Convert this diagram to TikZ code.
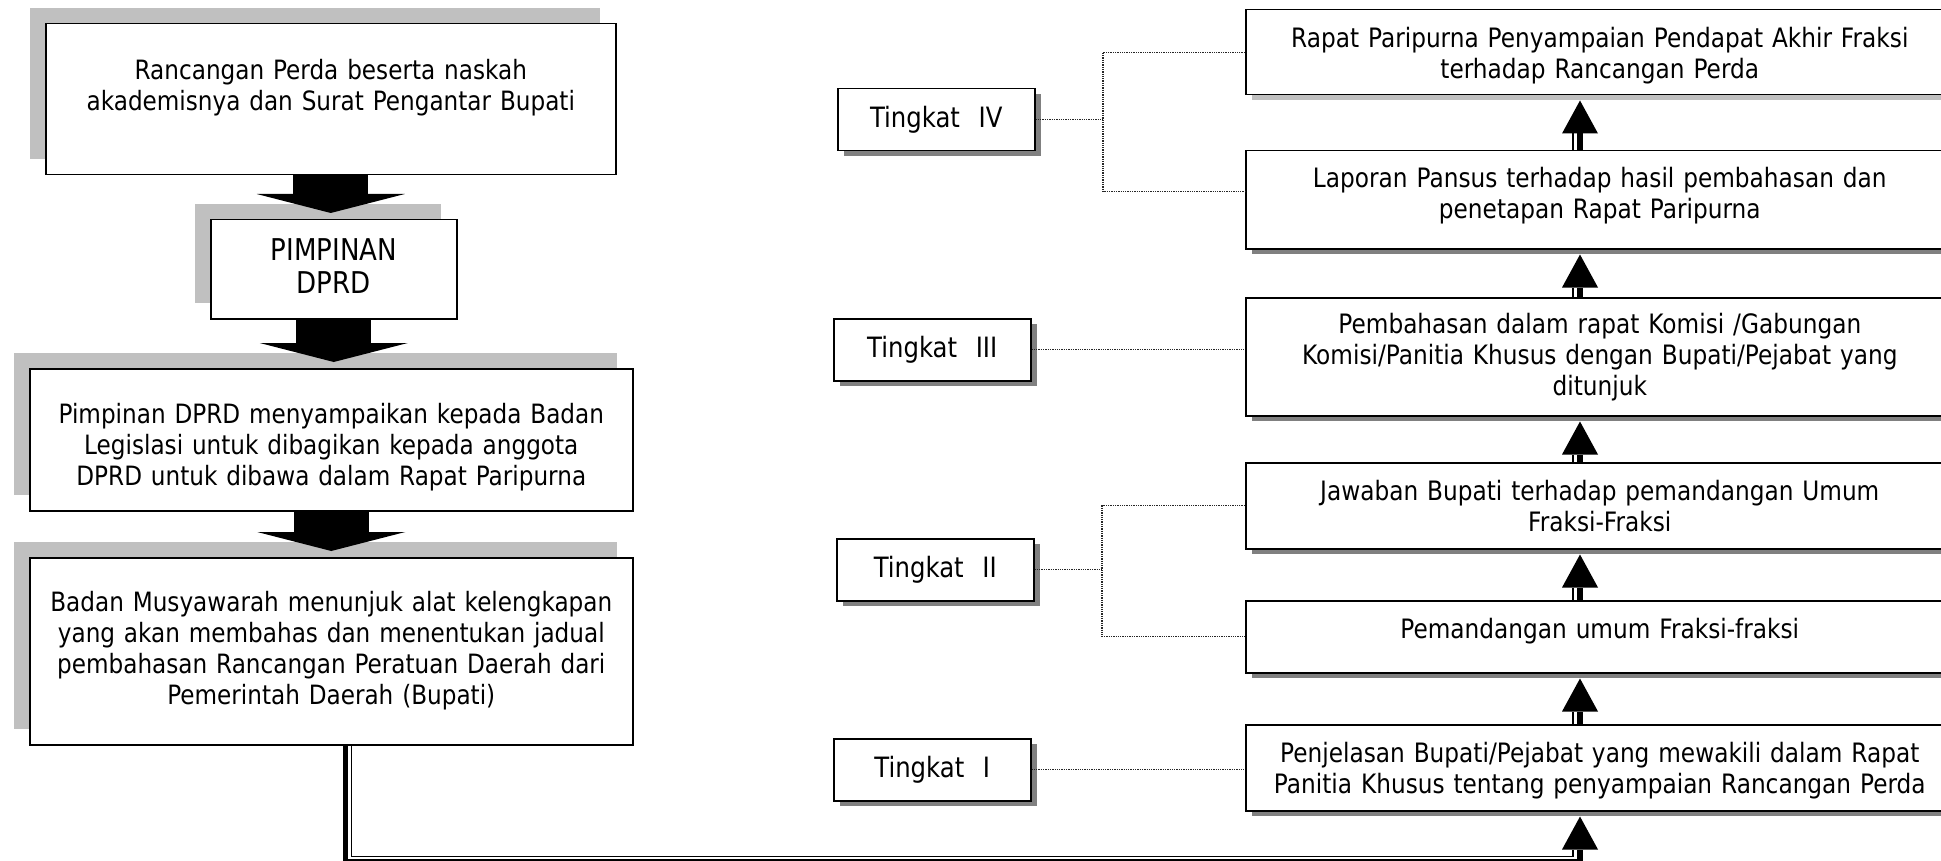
\documentclass[tikz,border=0pt]{standalone}
\usepackage{fontspec}
\setmainfont{DejaVu Sans}[FakeStretch=0.87]
\usetikzlibrary{arrows.meta,calc,shadows}
\definecolor{lightshade}{RGB}{192,192,192}
\definecolor{darkshade}{RGB}{128,128,128}
\tikzset{
  leftbox/.style={draw, line width=1.5pt, fill=white, inner sep=0pt, align=center,
    anchor=north west, font=\fontsize{26.6pt}{31pt}\selectfont,
    drop shadow={shadow xshift=-16pt, shadow yshift=16pt, opacity=1, fill=lightshade}},
  rightbox/.style={draw, line width=1.5pt, fill=white, inner sep=0pt, align=center,
    anchor=north west, text width=708pt, font=\fontsize{26.7pt}{31pt}\selectfont,
    drop shadow={shadow xshift=6pt, shadow yshift=-5pt, opacity=1, fill=#1}},
  rightbox/.default=darkshade,
  levelbox/.style={draw, line width=1.5pt, fill=white, inner sep=0pt, align=center,
    anchor=north west, text width=197pt, text height=39pt, text depth=23pt,
    font=\fontsize{28pt}{32pt}\selectfont,
    drop shadow={shadow xshift=6pt, shadow yshift=-5pt, opacity=1, fill=darkshade}},
  blockarrow/.style={line width=75pt, -{Triangle[width=148pt, length=19pt, line width=0pt]}, shorten >=6pt},
  thickline/.style={line width=5.5pt},
  upthick/.style={thickline, -{Triangle[width=36pt, length=33pt, line width=0pt]}, shorten >=5pt},
  thinline/.style={line width=1.5pt},
  dotline/.style={densely dotted, line width=1.3pt, black!85}
}
\begin{document}
\begin{tikzpicture}[x=1pt, y=-1pt]
\useasboundingbox (0,0) rectangle (1941,861);
\clip (0,0) rectangle (1941,861);

% left column
\node[leftbox, text width=570pt, text height=56pt, text depth=95pt] (rancangan) at (45,23)
  {Rancangan Perda beserta naskah\\ akademisnya dan Surat Pengantar Bupati};
\node[leftbox, text width=246pt, text height=41pt, text depth=58pt,
  font=\fontsize{30pt}{33pt}\selectfont] (pimpinan) at (210,219) {PIMPINAN\\ DPRD};
\node[leftbox, text width=603pt, text height=55pt, text depth=87pt] (legislasi) at (29,368)
  {Pimpinan DPRD menyampaikan kepada Badan\\ Legislasi untuk dibagikan kepada anggota\\ DPRD untuk dibawa dalam Rapat Paripurna};
\node[leftbox, text width=603pt, text height=54pt, text depth=133pt] (bamus) at (29,557)
  {Badan Musyawarah menunjuk alat kelengkapan\\ yang akan membahas dan menentukan jadual\\ pembahasan Rancangan Peratuan Daerah dari\\ Pemerintah Daerah (Bupati)};

% block arrows
\draw[blockarrow] (rancangan.south) -- (rancangan.south |- pimpinan.north);
\draw[blockarrow] (pimpinan.south) -- (pimpinan.south |- legislasi.north);
\draw[blockarrow] (legislasi.south) -- (legislasi.south |- bamus.north);

% right column
\node[rightbox=lightshade, text height=38pt, text depth=47pt] (paripurna) at (1245,9)
  {Rapat Paripurna Penyampaian Pendapat Akhir Fraksi\\ terhadap Rancangan Perda};
\node[rightbox, text height=37pt, text depth=61pt] (laporan) at (1245,150)
  {Laporan Pansus terhadap hasil pembahasan dan\\ penetapan Rapat Paripurna};
\node[rightbox, text height=36pt, text depth=82pt] (pembahasan) at (1245,297)
  {Pembahasan dalam rapat Komisi /Gabungan\\ Komisi/Panitia Khusus dengan Bupati/Pejabat yang\\ ditunjuk};
\node[rightbox, text height=38pt, text depth=48pt] (jawaban) at (1245,462)
  {Jawaban Bupati terhadap pemandangan Umum\\ Fraksi-Fraksi};
\node[rightbox, text height=38pt, text depth=34pt] (pemandangan) at (1245,600)
  {Pemandangan umum Fraksi-fraksi};
\node[rightbox, text height=38pt, text depth=48pt] (penjelasan) at (1245,724)
  {Penjelasan Bupati/Pejabat yang mewakili dalam Rapat\\ Panitia Khusus tentang penyampaian Rancangan Perda};

% levels
\node[levelbox] (tk4) at (837,88) {Tingkat\ \ IV};
\node[levelbox] (tk3) at (833,318) {Tingkat\ \ III};
\node[levelbox] (tk2) at (836,538) {Tingkat\ \ II};
\node[levelbox] (tk1) at (833,738) {Tingkat\ \ I};

% dotted brackets
\coordinate (jtop) at (1103,0);
\coordinate (jlow) at (1102,0);
\draw[dotline] (tk4.east) -- (tk4.east -| jtop);
\draw[dotline] (paripurna.west) -| ($(laporan.west -| jtop)+(0,-8)$) -- ($(laporan.west)+(0,-8)$);
\draw[dotline] (tk3.east) -- (tk3.east -| pembahasan.west);
\draw[dotline] (tk2.east) -- (tk2.east -| jlow);
\draw[dotline] (jawaban.west) -| (pemandangan.west -| jlow) -- (pemandangan.west);
\draw[dotline] (tk1.east) -- (tk1.east -| penjelasan.west);

% up arrows
\coordinate (ax) at (1580,0);
\coordinate (bx) at (1573,0);
\draw[upthick] (penjelasan.north -| ax) -- (pemandangan.south -| ax);
\draw[thinline] (penjelasan.north -| bx) -- ($(pemandangan.south -| bx)+(0,38)$);
\draw[upthick] (pemandangan.north -| ax) -- (jawaban.south -| ax);
\draw[thinline] (pemandangan.north -| bx) -- ($(jawaban.south -| bx)+(0,38)$);
\draw[upthick] (jawaban.north -| ax) -- (pembahasan.south -| ax);
\draw[thinline] (jawaban.north -| bx) -- ($(pembahasan.south -| bx)+(0,38)$);
\draw[upthick] (pembahasan.north -| ax) -- (laporan.south -| ax);
\draw[thinline] (pembahasan.north -| bx) -- ($(laporan.south -| bx)+(0,38)$);
\draw[upthick] (laporan.north -| ax) -- (paripurna.south -| ax);
\draw[thinline] (laporan.north -| bx) -- ($(paripurna.south -| bx)+(0,38)$);

% long double connector
\draw[upthick] ($(bamus.south)+(14,0)$) |- ($(penjelasan.south -| ax)+(0,50)$) -- (penjelasan.south -| ax);
\draw[thinline] ($(bamus.south)+(20,0)$) |- ($(penjelasan.south -| bx)+(0,45)$) -- ($(penjelasan.south -| bx)+(0,38)$);

\end{tikzpicture}
\end{document}
